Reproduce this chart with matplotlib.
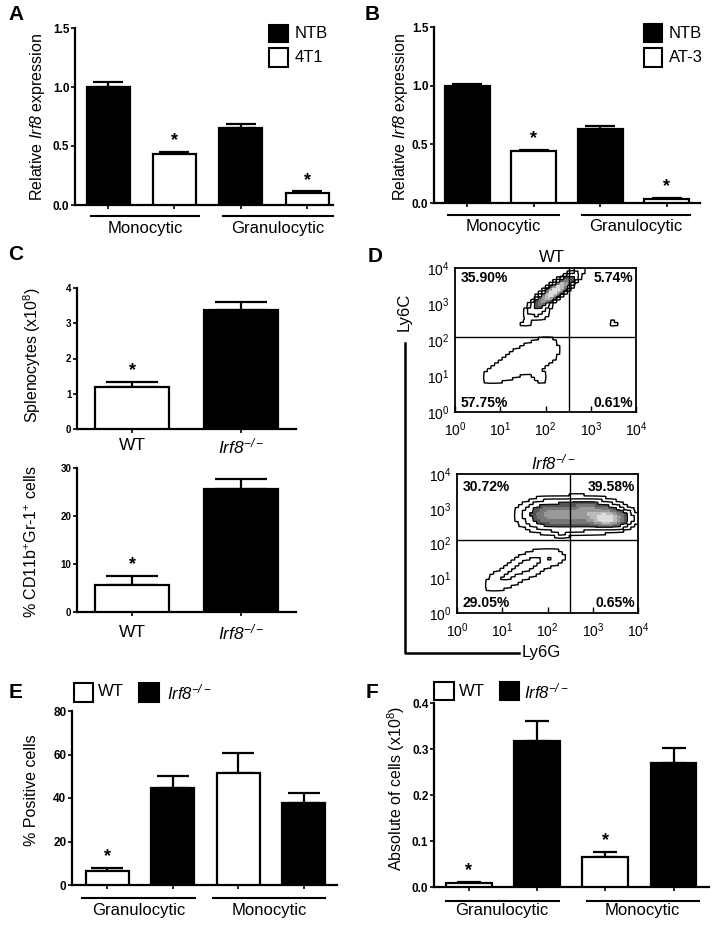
import numpy as np
import matplotlib
matplotlib.use('Agg')
import matplotlib.pyplot as plt
from matplotlib import transforms
from matplotlib.patches import Rectangle
from matplotlib.lines import Line2D

plt.rcParams['font.family'] = ['Liberation Sans', 'DejaVu Sans']
plt.rcParams['mathtext.fontset'] = 'custom'
plt.rcParams['mathtext.rm'] = 'Liberation Sans'
plt.rcParams['mathtext.it'] = 'Liberation Sans:italic'
plt.rcParams['mathtext.sf'] = 'Liberation Sans:italic'
plt.rcParams['mathtext.bf'] = 'Liberation Sans:bold'

IRF8 = r'$\mathsf{Irf8}^{\mathsf{-/-}}$'

# ---- data ----
groups_ab = ['Monocytic', 'Granulocytic']
groups_ef = ['Granulocytic', 'Monocytic']

a_means = [1.00, 0.43, 0.65, 0.10]
a_err = [0.04, 0.02, 0.04, 0.015]
a_fill = ['black', 'white', 'black', 'white']
a_star = [False, True, False, True]
a_legend = ['NTB', '4T1']

b_means = [1.00, 0.44, 0.63, 0.035]
b_err = [0.012, 0.015, 0.03, 0.006]
b_fill = ['black', 'white', 'black', 'white']
b_star = [False, True, False, True]
b_legend = ['NTB', 'AT-3']

c_labels = ['WT', IRF8]
c_fill = ['white', 'black']
c_spleno = [1.2, 3.38]
c_spleno_err = [0.13, 0.22]
c_spleno_star = [True, False]
c_cd11b = [5.6, 25.7]
c_cd11b_err = [1.9, 2.0]
c_cd11b_star = [True, False]

e_means = [6.5, 44.5, 51.5, 37.5]
e_err = [1.5, 5.8, 9.0, 5.0]
e_fill = ['white', 'black', 'white', 'black']
e_star = [True, False, False, False]

f_means = [0.008, 0.318, 0.065, 0.270]
f_err = [0.003, 0.042, 0.011, 0.033]
f_fill = ['white', 'black', 'white', 'black']
f_star = [True, False, True, False]

# flow panels: populations in log10 units (cx, cy, sx, sy, rho, weight)
wt_clusters = [(2.20, 3.35, 0.24, 0.24, 0.88, 1.0),
               (1.85, 2.80, 0.16, 0.16, 0.3, 0.10),
               (1.55, 2.45, 0.08, 0.06, 0.0, 0.05),
               (1.00, 1.10, 0.32, 0.25, 0.5, 0.05),
               (1.60, 1.50, 0.32, 0.30, 0.3, 0.06),
               (2.05, 1.75, 0.18, 0.24, 0.0, 0.05),
               (1.90, 0.95, 0.14, 0.15, 0.0, 0.035),
               (3.50, 2.45, 0.07, 0.07, 0.0, 0.05)]
ko_clusters = [(2.50, 2.80, 0.50, 0.24, 0.0, 0.35),
               (3.35, 2.72, 0.25, 0.15, 0.0, 0.6),
               (2.95, 2.95, 0.30, 0.17, 0.0, 0.2),
               (2.00, 2.85, 0.25, 0.20, 0.0, 0.2),
               (2.30, 2.25, 0.07, 0.07, 0.0, 0.04),
               (1.00, 0.95, 0.27, 0.22, 0.5, 0.05),
               (1.60, 1.40, 0.32, 0.26, 0.5, 0.07),
               (2.15, 1.60, 0.16, 0.14, 0.0, 0.04)]
wt_gate = (10 ** 2.52, 10 ** 2.08)
ko_gate = (10 ** 2.50, 10 ** 2.10)
wt_pct = ['35.90%', '5.74%', '57.75%', '0.61%']
ko_pct = ['30.72%', '39.58%', '29.05%', '0.65%']

W, H = 714, 926
fig = plt.figure(figsize=(W / 100, H / 100), dpi=100)


def rect_px(l, t, r, b):
    return [l / W, 1 - b / H, (r - l) / W, (b - t) / H]


def ftext(x, y, s, **kw):
    kw.setdefault('ha', 'center')
    kw.setdefault('va', 'center')
    fig.text(x / W, 1 - y / H, s, **kw)


def fline(xs, ys, lw=1.6):
    fig.add_artist(Line2D([x / W for x in xs], [1 - y / H for y in ys],
                          color='black', lw=lw, transform=fig.transFigure))


def fbox(l, t, r, b, color):
    fig.add_artist(Rectangle((l / W, 1 - b / H), (r - l) / W, (b - t) / H,
                             facecolor=color, edgecolor='black', lw=1.5,
                             transform=fig.transFigure))


def bar_panel(rect, xlim, width, means, errs, fills, stars, ylim, yticks,
              yticklabels, capsize, ticksize=8.5):
    ax = fig.add_axes(rect_px(*rect))
    x = np.arange(len(means))
    ax.bar(x, means, width, color=fills, edgecolor='black', linewidth=1.6, zorder=3)
    ax.errorbar(x, means, yerr=[np.zeros(len(means)), errs], fmt='none',
                ecolor='black', elinewidth=1.6, capsize=capsize, capthick=1.6, zorder=2)
    for i, s in enumerate(stars):
        if s:
            ax.annotate('*', xy=(x[i], means[i] + errs[i]), xytext=(0, 8),
                        textcoords='offset points', ha='center', va='center',
                        fontsize=13, fontweight='bold')
    ax.set_xlim(*xlim)
    ax.set_ylim(*ylim)
    ax.set_yticks(yticks)
    ax.set_yticklabels(yticklabels, fontweight='bold', fontsize=ticksize)
    ax.set_xticks(x)
    ax.set_xticklabels([])
    for sp in ['top', 'right']:
        ax.spines[sp].set_visible(False)
    for sp in ['left', 'bottom']:
        ax.spines[sp].set_linewidth(1.6)
    ax.tick_params(axis='y', length=3, width=1.2, pad=1)
    ax.tick_params(axis='x', length=3, width=1.2)
    return ax


def group_lines(ax, spans, labels, drop, label_drop, axh):
    tr = transforms.blended_transform_factory(ax.transData, ax.transAxes)
    for (x0, x1), lab in zip(spans, labels):
        ax.plot([x0, x1], [-drop / axh] * 2, color='black', lw=1.5,
                transform=tr, clip_on=False)
        ax.text((x0 + x1) / 2, -label_drop / axh, lab, transform=tr,
                ha='center', va='center', fontsize=12)


# ---- panel A ----
ax_a = bar_panel((75, 28, 333, 205), (-0.5, 3.39), 0.65, a_means, a_err, a_fill,
                 a_star, (0, 1.5), [0, 0.5, 1.0, 1.5], ['0.0', '0.5', '1.0', '1.5'], 11)
group_lines(ax_a, [(-0.26, 1.37), (1.73, 3.39)], groups_ab, 11, 23, 177)
ftext(38, 117, r'Relative $\mathsf{Irf8}$ expression', rotation=90, fontsize=11.5)
ftext(16, 15, 'A', fontsize=15, fontweight='heavy')
fbox(269, 25, 288, 42, 'black')
fbox(269, 48, 288, 67, 'white')
ftext(295, 33, a_legend[0], ha='left', fontsize=12)
ftext(295, 57, a_legend[1], ha='left', fontsize=12)

# ---- panel B ----
ax_b = bar_panel((434, 27, 700, 203), (-0.5, 3.5), 0.68, b_means, b_err, b_fill,
                 b_star, (0, 1.5), [0, 0.5, 1.0, 1.5], ['0.0', '0.5', '1.0', '1.5'], 11)
group_lines(ax_b, [(-0.29, 1.38), (1.72, 3.35)], groups_ab, 12, 24, 176)
ftext(400, 117, r'Relative $\mathsf{Irf8}$ expression', rotation=90, fontsize=11.5)
ftext(372, 15, 'B', fontsize=15, fontweight='heavy')
fbox(644, 24, 662, 42, 'black')
fbox(644, 48, 662, 67, 'white')
ftext(669, 33, b_legend[0], ha='left', fontsize=12)
ftext(669, 57, b_legend[1], ha='left', fontsize=12)

# ---- panel C ----
ax_c1 = bar_panel((77, 288, 296, 429), (-0.51, 1.51), 0.68, c_spleno, c_spleno_err,
                  c_fill, c_spleno_star, (0, 4), [0, 1, 2, 3, 4],
                  ['0', '1', '2', '3', '4'], 19, ticksize=7)
ax_c2 = bar_panel((77, 468, 296, 612), (-0.51, 1.51), 0.68, c_cd11b, c_cd11b_err,
                  c_fill, c_cd11b_star, (0, 30), [0, 10, 20, 30],
                  ['0', '10', '20', '30'], 19, ticksize=7)
for ax, base, ylab in [(ax_c1, 429, 446), (ax_c2, 612, 632)]:
    tr = transforms.blended_transform_factory(ax.transData, ax.transAxes)
    for xi, lab in enumerate(c_labels):
        ax.text(xi, -(ylab - base) / 141, lab, transform=tr,
                ha='center', va='center', fontsize=12.5)
ftext(32, 355, r'Splenocytes (x10$^{8}$)', rotation=90, fontsize=11.5)
ftext(32, 542, r'% CD11b$^{+}$Gr-1$^{+}$ cells', rotation=90, fontsize=11.5)
ftext(16, 255, 'C', fontsize=15, fontweight='heavy')


# ---- panel D ----
def density(clusters, gx, gy):
    z = np.zeros_like(gx)
    for cx, cy, sx, sy, rho, w in clusters:
        dx = (gx - cx) / sx
        dy = (gy - cy) / sy
        z += w * np.exp(-(dx * dx - 2 * rho * dx * dy + dy * dy) / (2 * (1 - rho ** 2)))
    return z


def flow_panel(rect, clusters, gate, pct, top_y, bot_y):
    ax = fig.add_axes(rect_px(*rect))
    # coarse bins, expanded blockwise so the contours step like binned cytometry data
    nb, rep = 50, 4
    centers = (np.arange(nb) + 0.5) * 4 / nb
    cx, cy = np.meshgrid(centers, centers)
    z = np.kron(density(clusters, cx, cy), np.ones((rep, rep)))
    fine = (np.arange(nb * rep) + 0.5) * 4 / (nb * rep)
    gx, gy = np.meshgrid(fine, fine)
    zmax = z.max()
    fill_lv = zmax * np.array([0.2, 0.36, 0.52, 0.68, 0.84, 1.01])
    ax.contourf(10 ** gx, 10 ** gy, z, levels=fill_lv,
                colors=['#555555', '#777777', '#999999', '#bbbbbb', '#dddddd'])
    ax.contour(10 ** gx, 10 ** gy, z, levels=zmax * np.array([0.025, 0.08]),
               colors='black', linewidths=1.0)
    ax.contour(10 ** gx, 10 ** gy, z, levels=zmax * np.array([0.2]),
               colors='black', linewidths=0.8)
    ax.set_xscale('log')
    ax.set_yscale('log')
    ax.set_xlim(1, 1e4)
    ax.set_ylim(1, 1e4)
    ax.axvline(gate[0], color='black', lw=1.0)
    ax.axhline(gate[1], color='black', lw=1.0)
    ticks = [1, 10, 100, 1000, 10000]
    tl = [r'$10^{%d}$' % i for i in range(5)]
    ax.set_xticks(ticks)
    ax.set_xticklabels(tl, fontsize=10)
    ax.set_yticks(ticks)
    ax.set_yticklabels(tl, fontsize=10)
    ax.tick_params(axis='x', which='major', direction='in', length=4, width=1.0, pad=6)
    ax.tick_params(axis='x', which='minor', direction='in', length=2.5, width=0.8)
    ax.tick_params(axis='y', which='both', length=0, pad=4)
    ax.yaxis.set_minor_locator(matplotlib.ticker.NullLocator())
    for sp in ax.spines.values():
        sp.set_linewidth(1.3)
    kw = dict(transform=ax.transAxes, fontsize=10, fontweight='bold', va='center')
    ax.text(0.03, top_y, pct[0], ha='left', **kw)
    ax.text(0.985, top_y, pct[1], ha='right', **kw)
    ax.text(0.03, bot_y, pct[2], ha='left', **kw)
    ax.text(0.985, bot_y, pct[3], ha='right', **kw)
    return ax


flow_panel((455, 268, 636, 412), wt_clusters, wt_gate, wt_pct, 0.93, 0.06)
flow_panel((457, 474, 638, 613), ko_clusters, ko_gate, ko_pct, 0.905, 0.075)
ftext(552, 257, 'WT', fontsize=12)
ftext(553, 462, IRF8, fontsize=12)
ftext(375, 257, 'D', fontsize=15, fontweight='heavy')
ftext(404, 312, 'Ly6C', rotation=90, fontsize=12)
fline([405, 405, 519], [343, 653, 653], lw=1.8)
ftext(522, 653, 'Ly6G', ha='left', fontsize=12)

# ---- panel E ----
ax_e = bar_panel((72, 711, 337, 885), (-0.54, 3.51), 0.66, e_means, e_err, e_fill,
                 e_star, (0, 80), [0, 20, 40, 60, 80], ['0', '20', '40', '60', '80'], 11.5)
group_lines(ax_e, [(-0.38, 1.34), (1.62, 3.32)], groups_ef, 13, 26, 174)
ftext(32, 790, '% Positive cells', rotation=90, fontsize=11.5)
ftext(16, 692, 'E', fontsize=15, fontweight='heavy')
fbox(74, 683, 93, 702, 'white')
ftext(98, 692, 'WT', ha='left', fontsize=12)
fbox(139, 683, 159, 702, 'black')
ftext(167, 692, IRF8, ha='left', fontsize=12)

# ---- panel F ----
ax_f = bar_panel((434, 703, 709, 887), (-0.51, 3.52), 0.67, f_means, f_err, f_fill,
                 f_star, (0, 0.4), [0, 0.1, 0.2, 0.3, 0.4],
                 ['0.0', '0.1', '0.2', '0.3', '0.4'], 8.5)
group_lines(ax_f, [(-0.34, 1.32), (1.73, 3.37)], groups_ef, 14, 24, 184)
ftext(396, 788, r'Absolute of cells (x10$^{8}$)', rotation=90, fontsize=11.5)
ftext(372, 692, 'F', fontsize=15, fontweight='heavy')
fbox(434, 682, 454, 700, 'white')
ftext(459, 691, 'WT', ha='left', fontsize=12)
fbox(500, 682, 519, 700, 'black')
ftext(524, 691, IRF8, ha='left', fontsize=12)

fig.savefig('out.png', dpi=100)
